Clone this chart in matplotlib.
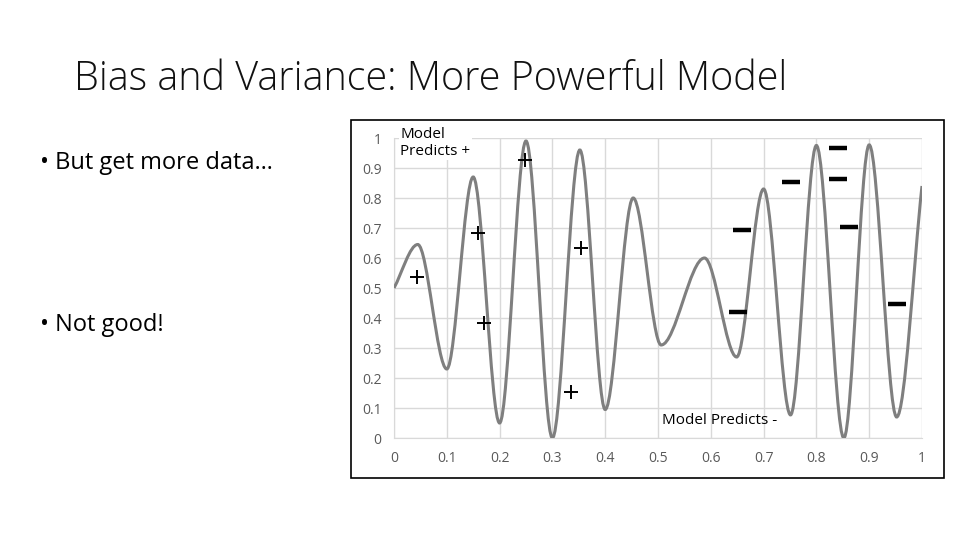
import numpy as np
import matplotlib.pyplot as plt
from matplotlib.path import Path
from matplotlib.patches import PathPatch, Rectangle

# Curva: extremos (x, y)
x_vals = [0.0, 0.045, 0.10, 0.15, 0.20, 0.25, 0.30, 0.352, 0.40, 0.453,
          0.506, 0.588, 0.649, 0.70, 0.751, 0.80, 0.852, 0.90, 0.952, 1.0]
y_vals = [0.50, 0.645, 0.23, 0.87, 0.05, 0.99, 0.00, 0.96, 0.095, 0.80,
          0.31, 0.60, 0.27, 0.83, 0.077, 0.975, 0.00, 0.977, 0.07, 0.84]

# Puntos marcados "+"
plus_x = [0.043, 0.160, 0.248, 0.354, 0.171, 0.335]
plus_y = [0.538, 0.684, 0.927, 0.632, 0.382, 0.152]

# Puntos marcados "-"
minus_x = [0.840, 0.840, 0.752, 0.660, 0.862, 0.651, 0.952]
minus_y = [0.966, 0.863, 0.852, 0.693, 0.704, 0.419, 0.447]

ticks = [0, 0.1, 0.2, 0.3, 0.4, 0.5, 0.6, 0.7, 0.8, 0.9, 1]
tick_labels = ['0', '0.1', '0.2', '0.3', '0.4', '0.5', '0.6', '0.7', '0.8', '0.9', '1']

plt.rcParams['font.family'] = ['Open Sans', 'DejaVu Sans']

fig = plt.figure(figsize=(9.6, 5.4), dpi=100)
fig.patch.set_facecolor('white')

# Titulo y viñetas
fig.text(74 / 960, 1 - 80 / 540, 'Bias and Variance: More Powerful Model',
         fontsize=28.5, fontweight='light', va='center', ha='left', color='#111111')
fig.text(40 / 960, 1 - 163 / 540, '• But get more data…', fontsize=17,
         va='center', ha='left', color='black')
fig.text(40 / 960, 1 - 325 / 540, '• Not good!', fontsize=17,
         va='center', ha='left', color='black')

# Marco del grafico
fig.patches.append(Rectangle((351 / 960, 1 - 478 / 540), 593 / 960, 358 / 540,
                             transform=fig.transFigure, fill=False,
                             edgecolor='black', linewidth=1.2))

ax = fig.add_axes([394 / 960, 1 - 438 / 540, 528 / 960, 300 / 540])

# Curva suave: tangente horizontal en cada extremo
pts = np.column_stack([x_vals, y_vals])
n = len(pts)
verts = [pts[0]]
codes = [Path.MOVETO]
for i in range(n - 1):
    p1, p2 = pts[i], pts[i + 1]
    dx = p2[0] - p1[0]
    if i == 0:
        c1 = p1 + (p2 - p1) / 3
    else:
        c1 = p1 + np.array([dx / 3, 0])
    if i + 1 == n - 1:
        c2 = p2 - (p2 - p1) / 3
    else:
        c2 = p2 - np.array([dx / 3, 0])
    verts += [c1, c2, p2]
    codes += [Path.CURVE4] * 3
ax.add_patch(PathPatch(Path(verts, codes), fill=False, edgecolor='#7f7f7f',
                       linewidth=2.2, zorder=3))

ax.plot(plus_x, plus_y, '+', color='black', markersize=10, mew=1.4, zorder=4)
ax.plot(minus_x, minus_y, '_', color='black', markersize=13, mew=3.2, zorder=4)

ax.text(0.012, 0.983, 'Model\nPredicts +', fontsize=11, va='center', ha='left',
        linespacing=1.15, bbox=dict(facecolor='white', edgecolor='none', pad=1),
        zorder=5)
ax.text(0.508, 0.06, 'Model Predicts -', fontsize=11, va='center', ha='left',
        zorder=5)

ax.set_xlim(0, 1)
ax.set_ylim(0, 1)
ax.set_xticks(ticks)
ax.set_xticklabels(tick_labels)
ax.set_yticks(ticks)
ax.set_yticklabels(tick_labels)
ax.tick_params(length=0, labelsize=10, labelcolor='#595959', pad=9)
ax.grid(True, color='#d9d9d9', linewidth=1)
ax.set_axisbelow(True)
for s in ['top', 'right']:
    ax.spines[s].set_visible(False)
for s in ['left', 'bottom']:
    ax.spines[s].set_color('#d9d9d9')

fig.savefig('out.png', dpi=100)
